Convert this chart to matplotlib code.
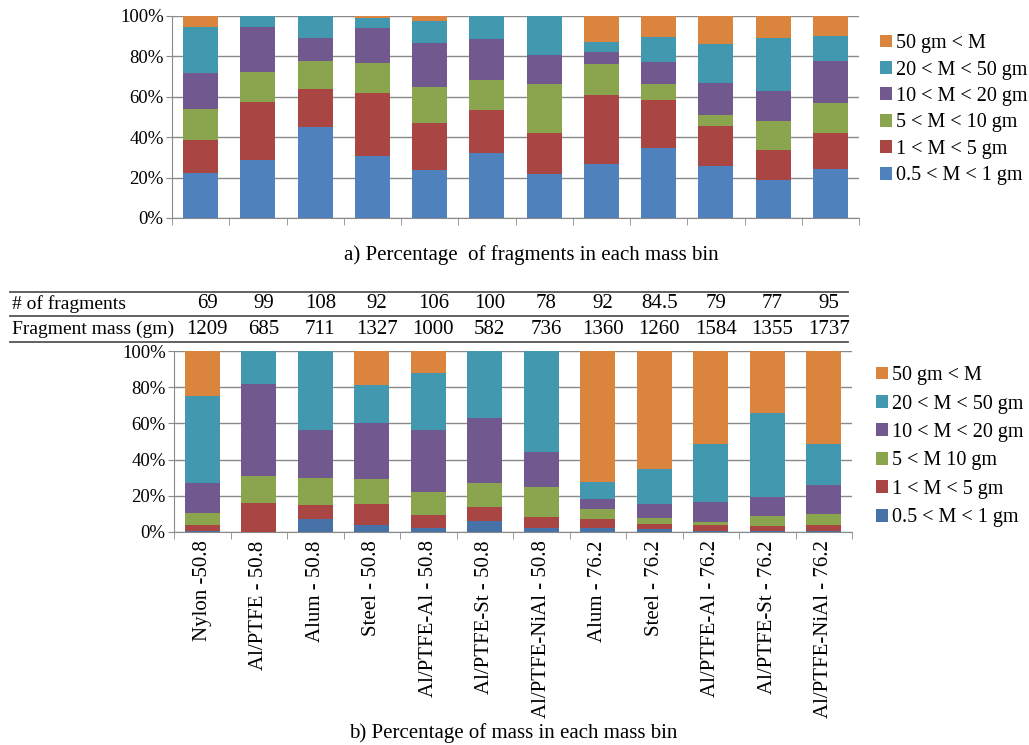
import numpy as np
from matplotlib import pyplot as plt
from matplotlib.lines import Line2D

plt.rcParams['font.family'] = ['Liberation Serif', 'DejaVu Serif']

# Categories (projectile - diameter)
categories = ["Nylon -50.8", "Al/PTFE - 50.8", "Alum - 50.8", "Steel - 50.8",
              "Al/PTFE-Al - 50.8", "Al/PTFE-St - 50.8", "Al/PTFE-NiAl - 50.8",
              "Alum - 76.2", "Steel - 76.2", "Al/PTFE-Al - 76.2",
              "Al/PTFE-St - 76.2", "Al/PTFE-NiAl - 76.2"]

# Table rows above chart b
n_fragments = ["69", "99", "108", "92", "106", "100", "78", "92", "84.5", "79", "77", "95"]
fragment_mass = ["1209", "685", "711", "1327", "1000", "582", "736", "1360", "1260", "1584", "1355", "1737"]

# a) percentage of fragments in each mass bin (bottom bin first)
frag_05_1 = [22.4, 28.8, 45.1, 30.9, 24.0, 32.1, 22.0, 26.8, 34.9, 25.7, 18.6, 24.5]
frag_1_5 = [16.1, 28.7, 18.8, 30.9, 23.1, 21.6, 20.3, 34.3, 23.7, 19.9, 15.2, 17.8]
frag_5_10 = [15.5, 15.0, 13.9, 15.0, 17.9, 14.5, 24.2, 15.3, 7.9, 5.3, 14.4, 14.5]
frag_10_20 = [17.8, 22.1, 11.5, 17.1, 21.5, 20.4, 14.1, 5.8, 10.8, 16.1, 14.6, 21.1]
frag_20_50 = [22.8, 5.4, 10.7, 5.0, 11.2, 11.4, 19.4, 4.8, 12.3, 19.0, 26.3, 12.4]
frag_50 = [5.4, 0.0, 0.0, 1.1, 2.3, 0.0, 0.0, 13.0, 10.4, 14.0, 10.9, 9.7]

# b) percentage of mass in each mass bin (bottom bin first)
mass_05_1 = [0.8, 0.2, 7.0, 4.0, 2.0, 6.3, 2.0, 2.0, 1.5, 0.5, 0.5, 0.5]
mass_1_5 = [3.2, 15.8, 7.9, 11.5, 7.4, 7.5, 6.3, 5.0, 3.1, 3.5, 2.8, 3.5]
mass_5_10 = [6.5, 14.9, 14.9, 13.8, 12.5, 13.1, 16.7, 5.9, 3.0, 1.7, 5.5, 5.9]
mass_10_20 = [16.4, 50.7, 26.4, 30.7, 34.3, 36.1, 19.4, 5.1, 7.9, 10.7, 10.4, 15.9]
mass_20_50 = [48.1, 18.4, 43.8, 21.0, 31.5, 37.0, 55.6, 9.4, 19.3, 32.0, 46.7, 22.6]
mass_50 = [25.0, 0.0, 0.0, 19.0, 12.3, 0.0, 0.0, 72.6, 65.2, 51.6, 34.1, 51.6]

labels_a = ["0.5 < M < 1 gm", "1 < M < 5 gm", "5 < M < 10 gm",
            "10 < M < 20 gm", "20 < M < 50 gm", "50 gm < M"]
labels_b = ["0.5 < M < 1 gm", "1 < M < 5 gm", "5 < M 10 gm",
            "10 < M < 20 gm", "20 < M < 50 gm", "50 gm < M"]

colors_a = ["#4F81BD", "#A94643", "#8BA54E", "#71588F", "#4198AF", "#DB843D"]
colors_b = ["#4672A8", "#A94643", "#8BA54E", "#71588F", "#4198AF", "#DB843D"]

grid_color = "#8A8A8A"


def stacked(ax, series, colors, labels, width):
    x = np.arange(len(categories))
    bottom = np.zeros(len(categories))
    for vals, c, lab in zip(series, colors, labels):
        ax.bar(x, vals, width, bottom=bottom, color=c, label=lab, zorder=3)
        bottom += np.array(vals)
    ax.set_xlim(-0.5, len(categories) - 0.5)
    ax.set_ylim(0, 100)
    ax.set_yticks(np.arange(0, 101, 20))
    ax.set_yticklabels(["%d%%" % v for v in range(0, 101, 20)], fontsize=13.5)
    ax.yaxis.grid(True, color=grid_color, linewidth=1.0, zorder=0)
    for s in ["top", "right"]:
        ax.spines[s].set_visible(False)
    for s in ["left", "bottom"]:
        ax.spines[s].set_color(grid_color)
    ax.tick_params(axis="y", length=4, color=grid_color, pad=2)
    # category boundary ticks
    ax.set_xticks(np.arange(-0.5, len(categories) + 0.5, 1), minor=True)
    ax.tick_params(axis="x", which="minor", length=5, color=grid_color)
    ax.tick_params(axis="x", which="major", length=0)


fig = plt.figure(figsize=(10.29, 7.45), dpi=100)
W, H = 1029.0, 745.0

# Chart a
ax1 = fig.add_axes([172 / W, 1 - 218 / H, 687 / W, 202 / H])
stacked(ax1, [frag_05_1, frag_1_5, frag_5_10, frag_10_20, frag_20_50, frag_50],
        colors_a, labels_a, 0.61)
ax1.set_xticks([])
h, l = ax1.get_legend_handles_labels()
ax1.legend(h[::-1], l[::-1], loc="upper left", bbox_to_anchor=(872 / W, 1 - 26 / H),
           bbox_transform=fig.transFigure, frameon=False, fontsize=14.5,
           handlelength=0.6, handleheight=0.6, handletextpad=0.2,
           labelspacing=0.37, borderaxespad=0)
fig.text(531 / W, 1 - 255 / H, "a) Percentage  of fragments in each mass bin",
         ha="center", va="center", fontsize=15)

# Chart b
ax2 = fig.add_axes([174 / W, 1 - 532 / H, 678 / W, 181 / H])
stacked(ax2, [mass_05_1, mass_1_5, mass_5_10, mass_10_20, mass_20_50, mass_50],
        colors_b, labels_b, 0.62)
ax2.set_xticks(np.arange(len(categories)))
ax2.set_xticklabels(categories, rotation=90, fontsize=15)
ax2.tick_params(axis="x", which="major", pad=6)
h, l = ax2.get_legend_handles_labels()
ax2.legend(h[::-1], l[::-1], loc="upper left", bbox_to_anchor=(868 / W, 1 - 358 / H),
           bbox_transform=fig.transFigure, frameon=False, fontsize=14.5,
           handlelength=0.6, handleheight=0.6, handletextpad=0.2,
           labelspacing=0.47, borderaxespad=0)
fig.text(513 / W, 1 - 733 / H, "b) Percentage of mass in each mass bin",
         ha="center", va="center", fontsize=15)

# Table above chart b
for yl in [292, 316, 342]:
    fig.add_artist(Line2D([10 / W, 848 / W], [1 - yl / H, 1 - yl / H],
                          color="#555555", linewidth=1.3))
fig.text(12 / W, 1 - 304 / H, "# of fragments", ha="left", va="center", fontsize=14)
fig.text(12 / W, 1 - 329 / H, "Fragment mass (gm)", ha="left", va="center", fontsize=14)
for i in range(len(categories)):
    xc = (174 + 56.5 * (i + 0.5)) / W
    fig.text(xc + 5 / W, 1 - 304 / H, n_fragments[i], ha="center", va="center", fontsize=15)
    fig.text(xc + 5 / W, 1 - 329 / H, fragment_mass[i], ha="center", va="center", fontsize=15)

fig.savefig("out.png", dpi=100)
